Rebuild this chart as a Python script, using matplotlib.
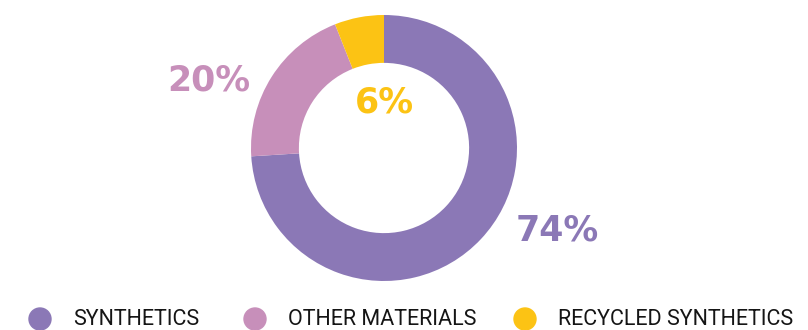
import matplotlib.pyplot as plt
from matplotlib.patches import Ellipse

# доли материалов
labels = ['SYNTHETICS', 'OTHER MATERIALS', 'RECYCLED SYNTHETICS']
shares = [74, 20, 6]
colors = ['#8b78b6', '#c78fba', '#fcc314']

W, H = 808, 330
fig = plt.figure(figsize=(W / 100, H / 100), dpi=100)

# кольцевая диаграмма: центр (384, 148), радиус 133 px
cx, cy, r = 384, 148, 133
ax = fig.add_axes([(cx - r) / W, (H - cy - r) / H, 2 * r / W, 2 * r / H])
ax.pie(shares, colors=colors, startangle=90, counterclock=False,
       wedgeprops=dict(width=0.36, edgecolor='none'))
ax.set_xlim(-1, 1)
ax.set_ylim(-1, 1)
ax.set_aspect('equal')
ax.axis('off')

# подписи процентов
label_pos = [(1.30, -0.62), (-1.32, 0.51), (0.0, 0.34)]
for val, col, (x, y) in zip(shares, colors, label_pos):
    ax.text(x, y, f'{val}%', color=col, fontsize=25, fontweight='bold',
            family='DejaVu Sans', ha='center', va='center', clip_on=False)

# легенда снизу
lg = fig.add_axes([0, 0, 1, 1])
lg.set_xlim(0, W)
lg.set_ylim(H, 0)
lg.axis('off')
legend_x = [40, 255, 525]
for lab, col, x in zip(labels, colors, legend_x):
    lg.add_patch(Ellipse((x, 319), 22, 22, color=col, clip_on=False))
    lg.text(x + 33, 325, lab, fontsize=15.5, family=['Roboto', 'DejaVu Sans'],
            color='#151515', va='baseline', ha='left')

fig.savefig('out.png', dpi=100)
